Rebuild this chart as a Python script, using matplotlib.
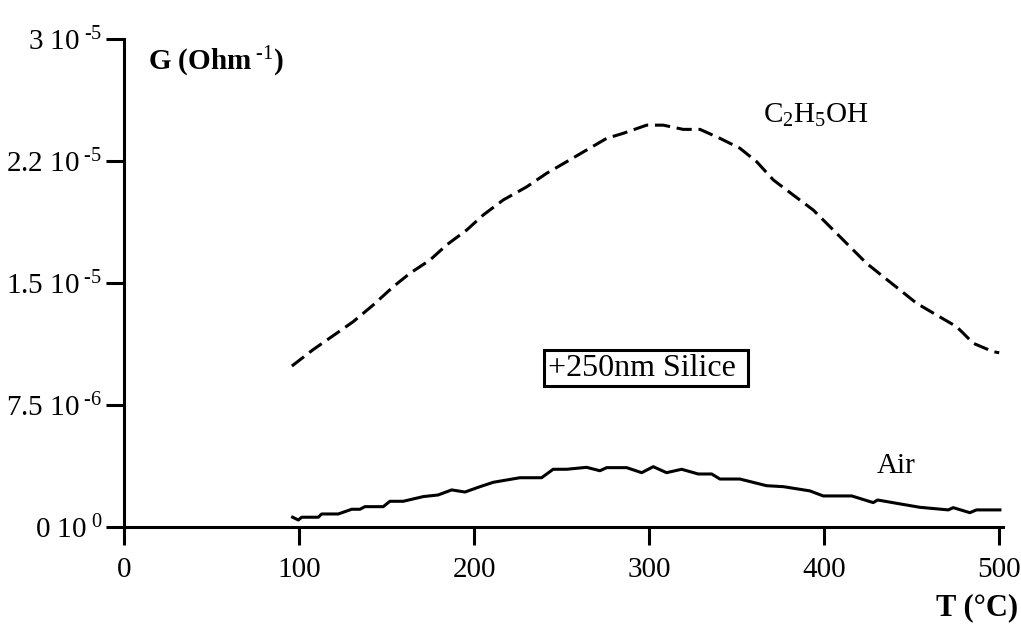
import matplotlib
matplotlib.use("Agg")
import matplotlib.pyplot as plt

plt.rcParams['font.family'] = ['Liberation Serif', 'DejaVu Serif']
plt.rcParams['mathtext.fontset'] = 'custom'
plt.rcParams['mathtext.rm'] = 'Liberation Serif'
plt.rcParams['mathtext.it'] = 'Liberation Serif:italic'
plt.rcParams['mathtext.bf'] = 'Liberation Serif:bold'

# Ethanol (C2H5OH) curve, dashed
t_eth = [95.8, 107.8, 121.4, 130.7, 142.3, 153.7, 163.3, 174.7, 184.2, 195.7, 205.1,
         216.6, 229.9, 241.4, 252.8, 264.2, 275.7, 285.2, 298.5, 308.0, 319.4, 329.0,
         340.4, 351.8, 361.4, 370.9, 382.3, 393.7, 403.3, 414.7, 424.2, 433.7, 443.3,
         452.8, 464.2, 475.7, 485.2, 496.6, 500.0]
g_eth = [9.88e-6, 1.088e-5, 1.19e-5, 1.26e-5, 1.364e-5, 1.476e-5, 1.559e-5, 1.64e-5,
         1.733e-5, 1.825e-5, 1.917e-5, 2.01e-5, 2.09e-5, 2.174e-5, 2.245e-5, 2.317e-5,
         2.389e-5, 2.42e-5, 2.47e-5, 2.47e-5, 2.444e-5, 2.444e-5, 2.389e-5, 2.328e-5,
         2.245e-5, 2.133e-5, 2.04e-5, 1.948e-5, 1.845e-5, 1.722e-5, 1.62e-5, 1.538e-5,
         1.456e-5, 1.374e-5, 1.302e-5, 1.23e-5, 1.128e-5, 1.076e-5, 1.07e-5]

# Air curve, solid
t_air = [96.2, 99.5, 101.4, 110.9, 112.8, 122.3, 130.0, 134.7, 137.5, 148.0, 151.8,
         159.4, 170.9, 179.4, 187.1, 194.7, 203.3, 210.9, 214.7, 226.1, 238.5, 245.1,
         252.8, 264.2, 271.8, 275.7, 287.1, 295.7, 302.3, 309.9, 318.5, 328.0, 335.7,
         340.4, 351.8, 367.0, 376.6, 391.8, 399.4, 415.7, 428.0, 430.5, 443.3, 454.7,
         470.9, 473.7, 483.2, 487.0, 500.4]
g_air = [5.8e-7, 4.1e-7, 5.8e-7, 5.8e-7, 7.8e-7, 7.8e-7, 1.07e-6, 1.07e-6, 1.23e-6,
         1.23e-6, 1.56e-6, 1.56e-6, 1.85e-6, 1.95e-6, 2.26e-6, 2.13e-6, 2.46e-6, 2.73e-6,
         2.8e-6, 3.01e-6, 3.01e-6, 3.53e-6, 3.53e-6, 3.65e-6, 3.44e-6, 3.63e-6, 3.63e-6,
         3.32e-6, 3.69e-6, 3.32e-6, 3.53e-6, 3.24e-6, 3.24e-6, 2.93e-6, 2.93e-6, 2.52e-6,
         2.46e-6, 2.2e-6, 1.89e-6, 1.89e-6, 1.48e-6, 1.64e-6, 1.40e-6, 1.19e-6, 1.03e-6,
         1.17e-6, 8.6e-7, 1.03e-6, 1.03e-6]

x_ticks = [0, 100, 200, 300, 400, 500]
x_tick_labels = ['0', '100', '200', '300', '400', '500']
y_ticks = [0, 7.5e-6, 1.5e-5, 2.25e-5, 3e-5]
y_tick_labels = [r'0 10$^{\ \text{0}}$', r'7.5 10$^{\ \text{-6}}$', r'1.5 10$^{\ \text{-5}}$',
                 r'2.2 10$^{\ \text{-5}}$', r'3 10$^{\ \text{-5}}$']

fig = plt.figure(figsize=(10.21, 6.26), dpi=100)
ax = fig.add_axes([0.1217, 0.1587, 0.8604, 0.779])

ax.plot(t_eth, g_eth, color='black', lw=2.2, linestyle=(0, (5, 2.2)),
        solid_capstyle='butt', dash_capstyle='butt')
ax.plot(t_air, g_air, color='black', lw=2.2, solid_joinstyle='round')

ax.set_xlim(0, 502)
ax.set_ylim(0, 3e-5)
ax.set_xticks(x_ticks)
ax.set_xticklabels(x_tick_labels)
ax.set_yticks(y_ticks)
ax.set_yticklabels(y_tick_labels)

for s in ['top', 'right']:
    ax.spines[s].set_visible(False)
for s in ['left', 'bottom']:
    ax.spines[s].set_linewidth(2.2)

ax.tick_params(axis='both', direction='out', length=13, width=2.2,
               labelsize=21, colors='black')
ax.tick_params(axis='x', pad=9)
ax.tick_params(axis='y', pad=3)

ax.text(13.5, 2.858e-5, r'G (Ohm$^{\ \text{-1}}$)', fontsize=21, fontweight='bold',
        ha='left', va='center')
ax.text(365, 2.527e-5, r'C$_2$H$_5$OH', fontsize=21, ha='left', va='center')
ax.text(430, 3.73e-6, 'Air', fontsize=21, ha='left', va='center')
ax.text(298.1, 9.76e-6, '+250nm Silice ', fontsize=23, ha='center', va='center',
        bbox=dict(boxstyle='square,pad=0.12', facecolor='white', edgecolor='black',
                  linewidth=2.2))

fig.text(0.997, 0.03, 'T (°C)', fontsize=22, fontweight='bold', ha='right', va='center')

fig.savefig('out.png', dpi=100)
